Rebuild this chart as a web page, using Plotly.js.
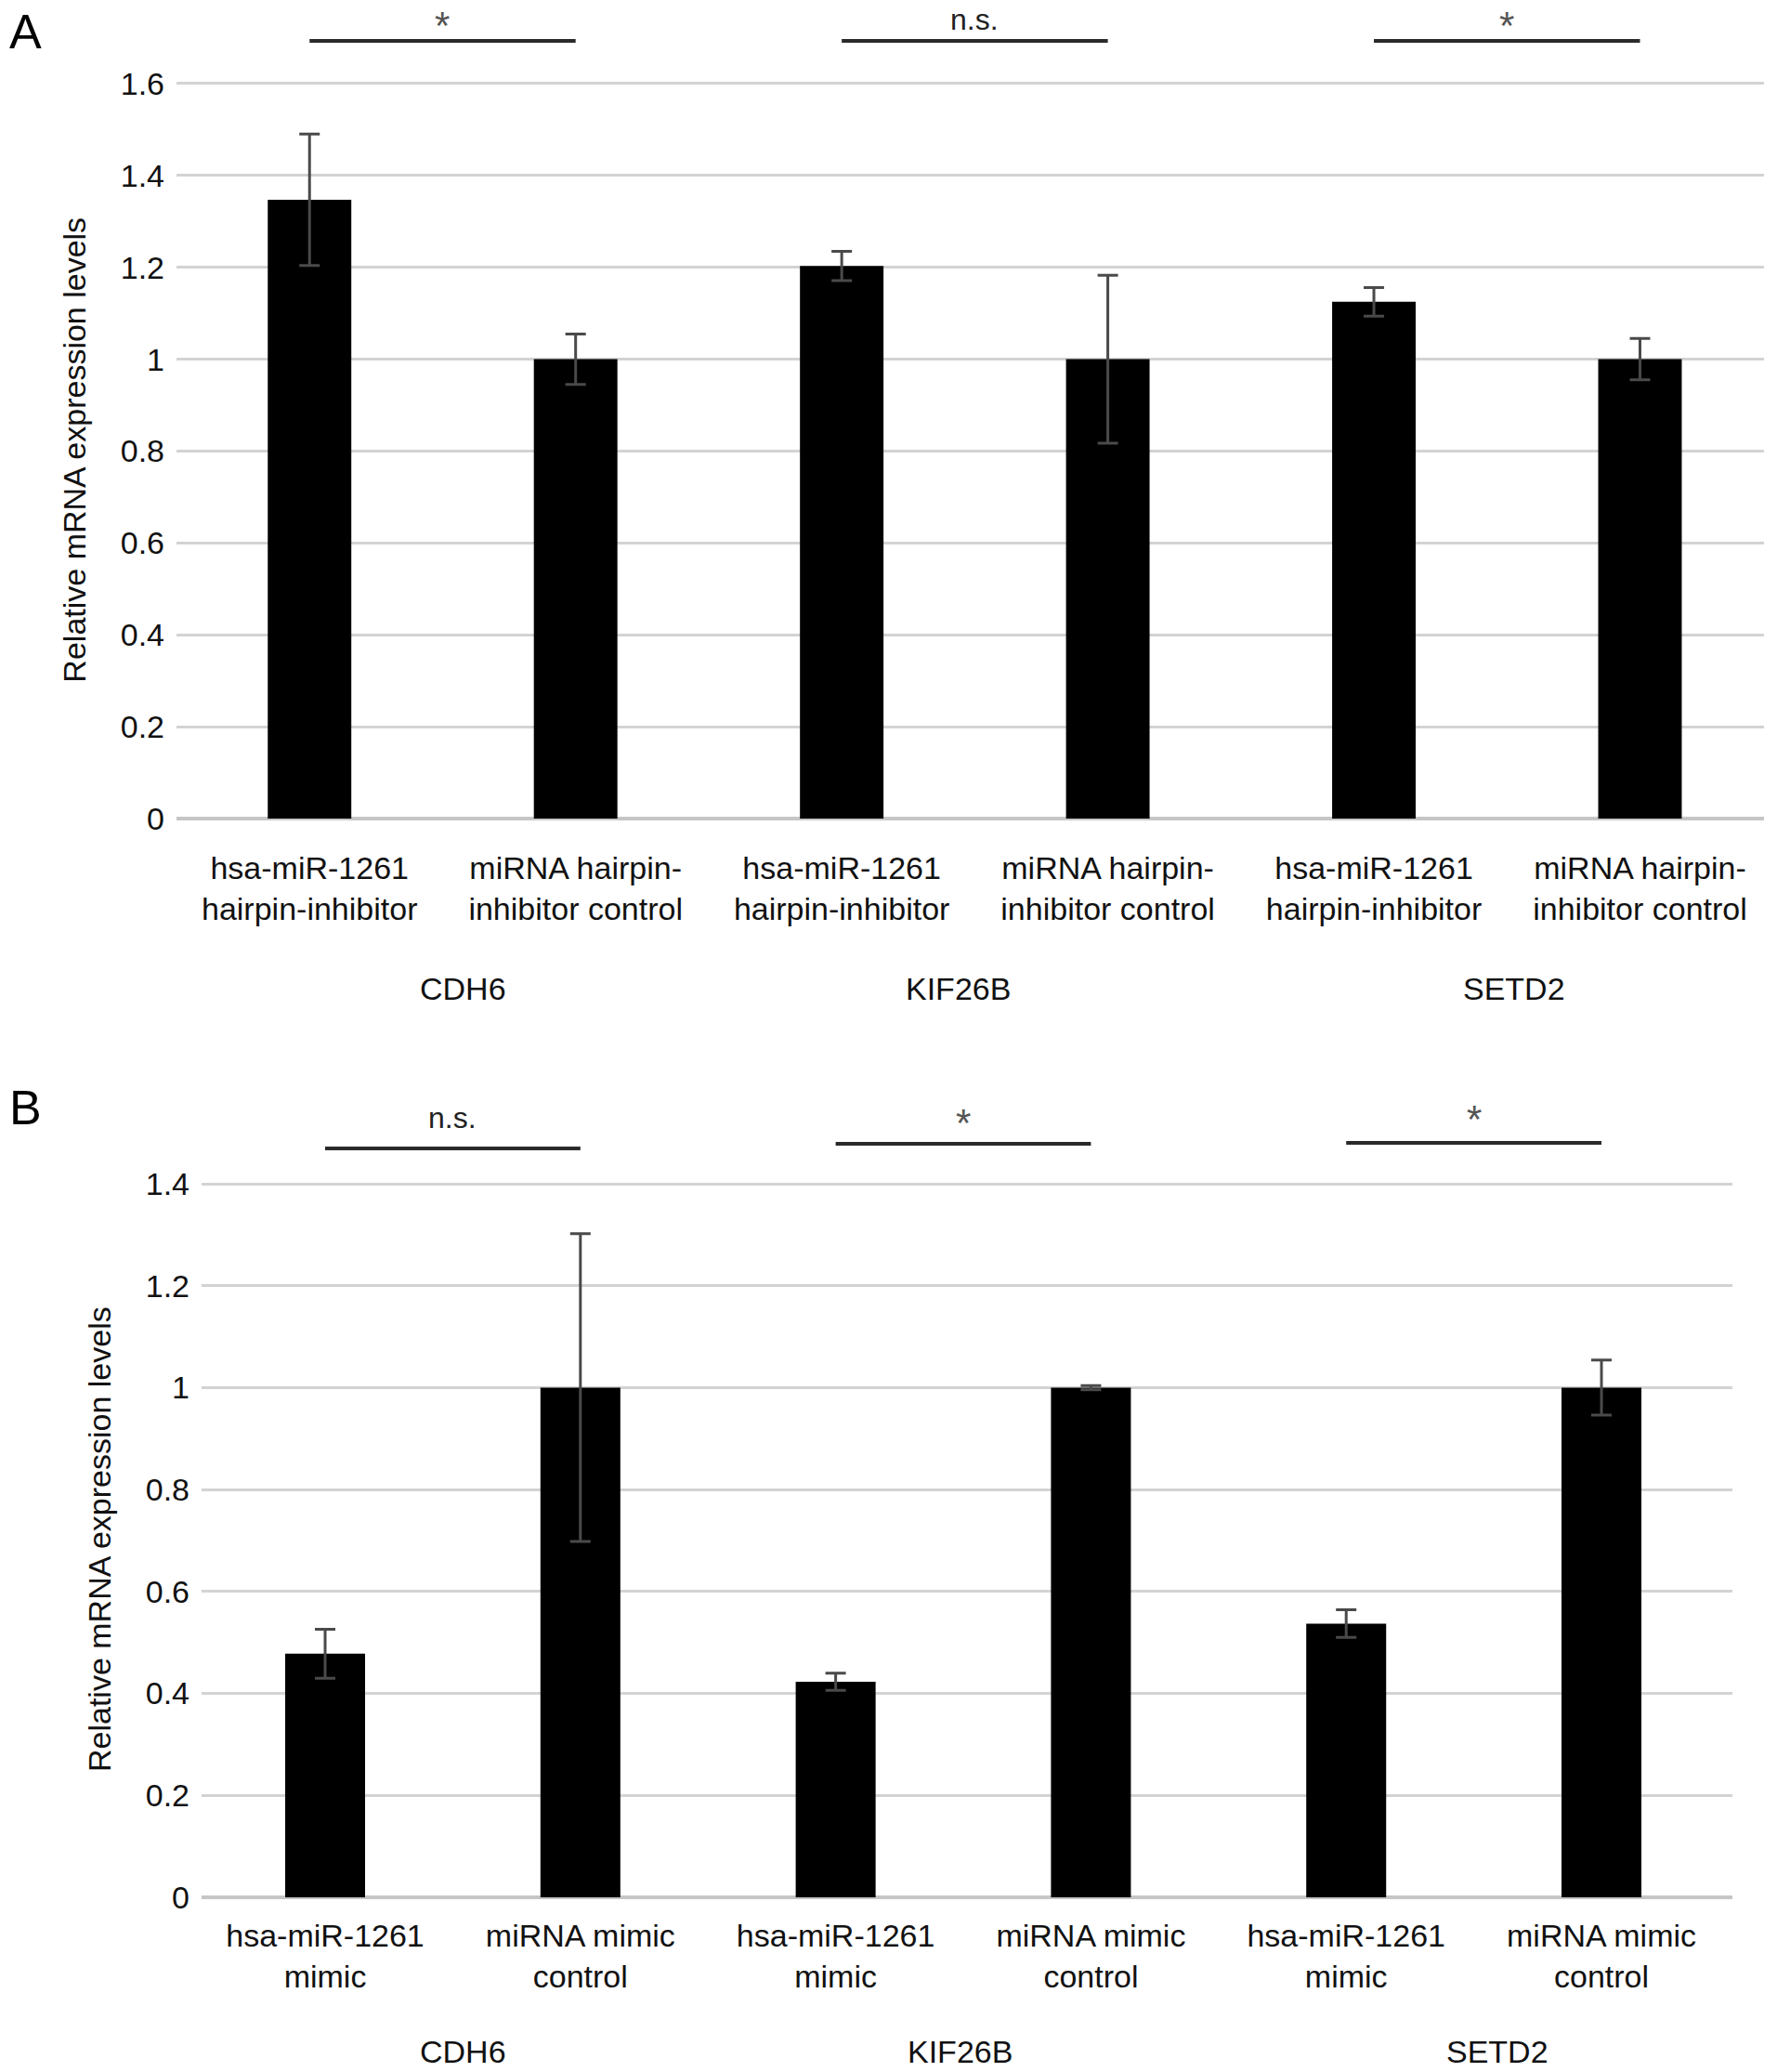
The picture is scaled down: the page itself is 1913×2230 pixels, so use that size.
<!DOCTYPE html>
<html>
<head>
<meta charset="utf-8">
<script src="https://cdn.plot.ly/plotly-3.0.1.min.js"></script>
<style>html,body{margin:0;padding:0;background:#fff;} #chart{width:1913px;height:2230px;}</style>
</head>
<body>
<div id="chart"></div>
<script>
// ---------------- data ----------------
var genes = ["CDH6", "KIF26B", "SETD2"];
var labelsA = ["hsa-miR-1261<br>hairpin-inhibitor", "miRNA hairpin-<br>inhibitor control",
               "hsa-miR-1261<br>hairpin-inhibitor", "miRNA hairpin-<br>inhibitor control",
               "hsa-miR-1261<br>hairpin-inhibitor", "miRNA hairpin-<br>inhibitor control"];
var valuesA = [1.347, 1.0, 1.203, 1.0, 1.125, 1.0];
var errorsA = [0.143, 0.055, 0.032, 0.183, 0.031, 0.045];
var sigA = ["*", "n.s.", "*"];

var labelsB = ["hsa-miR-1261<br>mimic", "miRNA mimic<br>control",
               "hsa-miR-1261<br>mimic", "miRNA mimic<br>control",
               "hsa-miR-1261<br>mimic", "miRNA mimic<br>control"];
var valuesB = [0.478, 1.0, 0.423, 1.0, 0.537, 1.0];
var errorsB = [0.048, 0.302, 0.017, 0.004, 0.027, 0.054];
var sigB = ["n.s.", "*", "*"];

var yTitle = "Relative mRNA expression levels";
var yTicksA = [0, 0.2, 0.4, 0.6, 0.8, 1, 1.2, 1.4, 1.6];
var yTicksB = [0, 0.2, 0.4, 0.6, 0.8, 1, 1.2, 1.4];

// ---------------- layout helpers ----------------
var W = 1913, H = 2230;
function px(x) { return x / W; }
function py(y) { return 1 - y / H; }
var idx = [0, 1, 2, 3, 4, 5];
var FONT = "Liberation Sans, Arial, Helvetica, sans-serif";

var errStyle = {type: "data", visible: true, color: "#4a4a4a", thickness: 3, width: 11};

var traceA = {
  type: "bar", x: idx, y: valuesA, width: 0.314, xaxis: "x", yaxis: "y",
  marker: {color: "#000000"},
  error_y: Object.assign({array: errorsA}, errStyle),
  hoverinfo: "skip", showlegend: false
};
var traceB = {
  type: "bar", x: idx, y: valuesB, width: 0.313, xaxis: "x2", yaxis: "y2",
  marker: {color: "#000000"},
  error_y: Object.assign({array: errorsB}, errStyle),
  hoverinfo: "skip", showlegend: false
};

function yAxis(domain, range, ticks, anchor) {
  return {
    domain: domain, range: range, anchor: anchor, tickvals: ticks, ticktext: ticks.map(String),
    showgrid: true, gridcolor: "#d3d3d3", gridwidth: 3,
    zeroline: true, zerolinecolor: "#c6c6c6", zerolinewidth: 4,
    showline: false, ticks: "", ticklabelstandoff: 12,
    tickfont: {family: FONT, size: 34, color: "#111"},
    title: {text: yTitle, font: {family: FONT, size: 34, color: "#111"}, standoff: 26},
    fixedrange: true
  };
}
function xAxis(domain, range, labels, anchor, standoff) {
  return {
    domain: domain, range: range, anchor: anchor, tickvals: idx, ticktext: labels,
    showgrid: false, zeroline: false, showline: false, ticks: "",
    ticklabelstandoff: standoff,
    tickfont: {family: FONT, size: 34, color: "#111"}, fixedrange: true
  };
}

var annotations = [];
var shapes = [];
// panel letters
annotations.push({text: "A", xref: "paper", yref: "paper", x: px(8), y: py(3), xanchor: "left", yanchor: "top",
  showarrow: false, font: {family: FONT, size: 52, color: "#000"}});
annotations.push({text: "B", xref: "paper", yref: "paper", x: px(8), y: py(1161), xanchor: "left", yanchor: "top",
  showarrow: false, font: {family: FONT, size: 52, color: "#000"}});

// group labels (positions in axis units)
var groupPosA = [0.576, 2.436, 4.527];
var groupPosB = [0.539, 2.489, 4.592];
genes.forEach(function (g, i) {
  annotations.push({text: g, xref: "x", yref: "paper", x: groupPosA[i], y: py(1064), yanchor: "middle",
    showarrow: false, font: {family: FONT, size: 34, color: "#111"}});
  annotations.push({text: g, xref: "x2", yref: "paper", x: groupPosB[i], y: py(2208), yanchor: "middle",
    showarrow: false, font: {family: FONT, size: 34, color: "#111"}});
});

// significance brackets (pixel rows of lines and of label boxes' bottoms)
var sigLineYA = [44, 44, 44];
var sigTextYA = [53, 41, 53];
var sigLineYB = [1236, 1231, 1230];
var sigTextYB = [1223, 1234, 1230];
function addSig(labels, xref, lineY, textY) {
  labels.forEach(function (s, i) {
    var a = 2 * i, b = 2 * i + 1;
    shapes.push({type: "line", xref: xref, yref: "paper", x0: a, x1: b, y0: py(lineY[i]), y1: py(lineY[i]),
      line: {color: "#2a2a2a", width: 4}});
    var isStar = s === "*";
    annotations.push({text: s, xref: xref, yref: "paper", x: (a + b) / 2,
      y: py(textY[i]), yanchor: "bottom", showarrow: false,
      font: {family: FONT, size: isStar ? 42 : 32, color: isStar ? "#555" : "#222"}});
  });
}
addSig(sigA, "x", sigLineYA, sigTextYA);
addSig(sigB, "x2", sigLineYB, sigTextYB);

var layout = {
  width: W, height: H,
  margin: {l: 0, r: 0, t: 0, b: 0},
  paper_bgcolor: "#ffffff", plot_bgcolor: "#ffffff",
  showlegend: false,
  xaxis: xAxis([px(190), px(1899)], [-0.5, 5.466], labelsA, "y", 30),
  yaxis: yAxis([py(881), py(87.5)], [0, 1.605], yTicksA, "x"),
  xaxis2: xAxis([px(217), px(1865)], [-0.484, 5.513], labelsB, "y2", 18),
  yaxis2: yAxis([py(2042), py(1271.3)], [0, 1.405], yTicksB, "x2"),
  annotations: annotations,
  shapes: shapes
};

Plotly.newPlot("chart", [traceA, traceB], layout, {staticPlot: true, displayModeBar: false});
</script>
</body>
</html>
